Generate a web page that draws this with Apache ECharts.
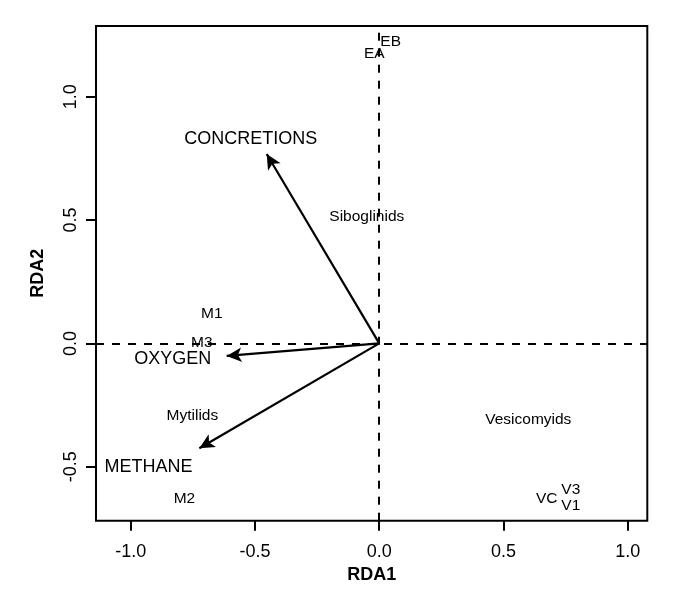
<!DOCTYPE html>
<html>
<head>
<meta charset="utf-8">
<script src="https://cdn.jsdelivr.net/npm/echarts@6/dist/echarts.min.js"></script>
<style>
    html, body { margin: 0; padding: 0; background: #fff; }
    #rda { width: 673px; height: 594px; }
</style>
</head>
<body>
<div id="rda"></div>
<script>
    // environmental arrows (tip coords) and their labels
    var envNames = ['CONCRETIONS', 'OXYGEN', 'METHANE'];
    var envX = [-0.453, -0.614, -0.724];
    var envY = [0.768, -0.051, -0.425];
    var envLabelX = [-0.517, -0.831, -0.929];
    var envLabelY = [0.827, -0.063, -0.502];

    // sites + species scores
    var siteNames = ['M1', 'M3', 'Mytilids', 'M2', 'Siboglinids', 'EB', 'EA', 'Vesicomyids', 'VC', 'V3', 'V1'];
    var siteX = [-0.674, -0.714, -0.752, -0.784, -0.050, 0.046, -0.020, 0.600, 0.674, 0.771, 0.771];
    var siteY = [0.119, 0.004, -0.294, -0.628, 0.514, 1.223, 1.176, -0.308, -0.628, -0.594, -0.659];

    // ticks
    var xTicks = [-1.0, -0.5, 0.0, 0.5, 1.0];
    var yTicks = [-0.5, 0.0, 0.5, 1.0];

    var FONT = 'Liberation Sans, Arial, sans-serif';

    var chart = echarts.init(document.getElementById('rda'));

    var arrowLines = [];
    for (var i = 0; i < envNames.length; i++) {
        arrowLines.push([{ coord: [0, 0] }, { coord: [envX[i], envY[i]] }]);
    }

    var envLabels = [];
    for (var i = 0; i < envNames.length; i++) {
        envLabels.push({ name: envNames[i], value: [envLabelX[i], envLabelY[i]] });
    }
    var siteLabels = [];
    for (var i = 0; i < siteNames.length; i++) {
        siteLabels.push({ name: siteNames[i], value: [siteX[i], siteY[i]] });
    }

    function textLabel(size) {
        return {
            show: true, position: 'inside',
            fontFamily: FONT, fontSize: size, color: '#000',
            textBorderWidth: 0, opacity: 1,
            formatter: function (p) { return p.name; }
        };
    }

    var option = {
        animation: false,
        backgroundColor: '#fff',
        grid: {
            left: 96, top: 26, right: 25.7, bottom: 73.3,
            show: true,
            borderColor: '#000',
            borderWidth: 2,
            backgroundColor: 'transparent'
        },
        xAxis: {
            type: 'value',
            min: -1.140,
            max: 1.079,
            name: 'RDA1',
            nameLocation: 'middle',
            nameGap: 44,
            nameTextStyle: { fontFamily: FONT, fontSize: 18, fontWeight: 'bold', color: '#000' },
            axisLine: { show: false, onZero: false },
            splitLine: { show: false },
            axisTick: {
                show: true, length: 10, customValues: xTicks,
                lineStyle: { color: '#000', width: 2 }
            },
            axisLabel: {
                customValues: xTicks, margin: 22,
                fontFamily: FONT, fontSize: 18, color: '#000',
                formatter: function (v) { return v.toFixed(1); }
            }
        },
        yAxis: {
            type: 'value',
            min: -0.719,
            max: 1.287,
            name: 'RDA2',
            nameLocation: 'middle',
            nameGap: 49,
            nameRotate: 90,
            nameTextStyle: { fontFamily: FONT, fontSize: 18, fontWeight: 'bold', color: '#000' },
            axisLine: { show: false, onZero: false },
            splitLine: { show: false },
            axisTick: {
                show: true, length: 10, customValues: yTicks,
                lineStyle: { color: '#000', width: 2 }
            },
            axisLabel: {
                customValues: yTicks, margin: 16, rotate: 90,
                fontFamily: FONT, fontSize: 18, color: '#000',
                formatter: function (v) { return v.toFixed(1); }
            }
        },
        series: [
            {   // dashed zero lines
                type: 'scatter',
                data: [],
                silent: true,
                markLine: {
                    silent: true,
                    symbol: ['none', 'none'],
                    label: { show: false },
                    lineStyle: { color: '#000', type: [8, 8], width: 2 },
                    data: [{ xAxis: 0 }, { yAxis: 0 }]
                }
            },
            {   // env arrows
                type: 'scatter',
                data: [],
                silent: true,
                markLine: {
                    silent: true,
                    symbol: ['none', 'arrow'],
                    symbolSize: [11, 15],
                    label: { show: false },
                    lineStyle: { color: '#000', type: 'solid', width: 2.2 },
                    data: arrowLines
                }
            },
            {   // env labels
                type: 'scatter',
                symbolSize: 0,
                silent: true,
                itemStyle: { color: 'transparent' },
                label: textLabel(18),
                data: envLabels
            },
            {   // site / species labels
                type: 'scatter',
                symbolSize: 0,
                silent: true,
                itemStyle: { color: 'transparent' },
                label: textLabel(15.5),
                data: siteLabels
            }
        ]
    };

    chart.setOption(option);
</script>
</body>
</html>
